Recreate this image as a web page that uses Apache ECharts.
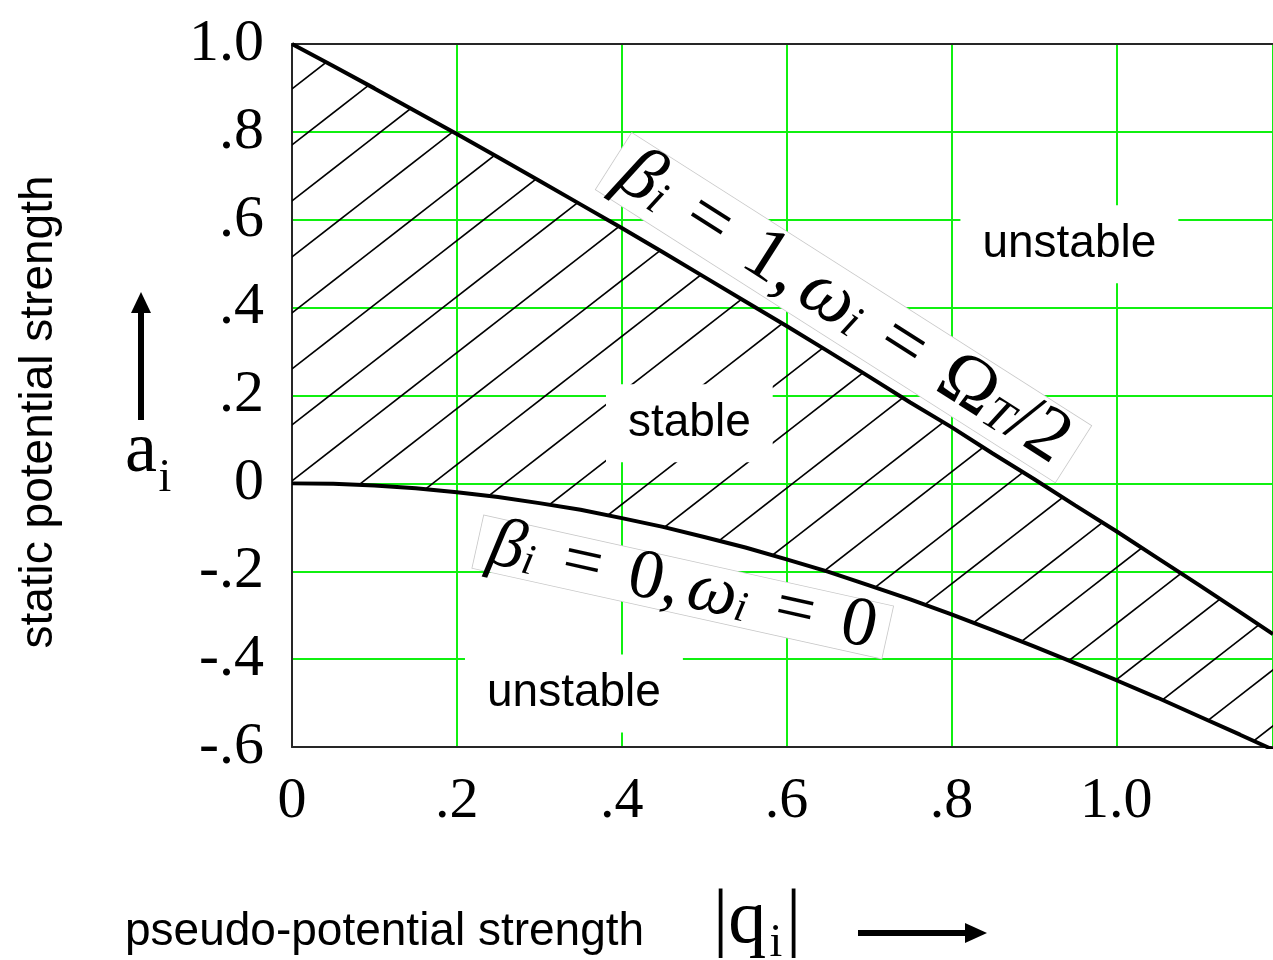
<!DOCTYPE html>
<html>
<head>
<meta charset="utf-8">
<script src="https://cdn.jsdelivr.net/npm/echarts@6/dist/echarts.min.js"></script>
<style>
  html, body { margin: 0; padding: 0; background: #fff; }
  #chart { width: 1273px; height: 960px; }
</style>
</head>
<body>
<div id="chart"></div>
<script>
// Stability diagram: static potential strength a_i versus pseudo-potential strength |q_i|

// sample positions along |q_i|
const qValues = [0, 0.05, 0.10, 0.15, 0.20, 0.25, 0.30, 0.35, 0.40, 0.45, 0.50, 0.55, 0.60,
                 0.65, 0.70, 0.75, 0.80, 0.85, 0.90, 0.95, 1.00, 1.05, 1.10, 1.15, 1.19];

// boundary beta_i = 1 (upper edge of the stable band)
const upperBoundary = [1.000, 0.950, 0.899, 0.847, 0.795, 0.742, 0.689, 0.635, 0.581, 0.526,
                       0.470, 0.414, 0.358, 0.301, 0.243, 0.184, 0.128, 0.068, 0.010, -0.050,
                       -0.109, -0.170, -0.231, -0.293, -0.343];

// boundary beta_i = 0 (lower edge of the stable band)
const lowerBoundary = [0.000, -0.001, -0.005, -0.011, -0.020, -0.031, -0.045, -0.060, -0.079,
                       -0.099, -0.122, -0.146, -0.173, -0.201, -0.232, -0.264, -0.298, -0.334,
                       -0.371, -0.409, -0.448, -0.488, -0.530, -0.572, -0.606];

// tick labels
const xTickValues = [0, 0.2, 0.4, 0.6, 0.8, 1.0];
const xTickLabels = ['0', '.2', '.4', '.6', '.8', '1.0'];
const yTickValues = [1.0, 0.8, 0.6, 0.4, 0.2, 0, -0.2, -0.4, -0.6];
const yTickLabels = ['1.0', '.8', '.6', '.4', '.2', '0', '-.2', '-.4', '-.6'];

// region names and boundary captions, anchored in data coordinates [q, a]
const regionLabels = [
  { text: 'unstable', at: [0.943, 0.544] },
  { text: 'stable',   at: [0.482, 0.137] },
  { text: 'unstable', at: [0.342, -0.478] }
];
const upperCaptionAt = [0.669, 0.400];
const lowerCaptionAt = [0.474, -0.236];

function tickFormatter(values, labels) {
  return function (v) {
    for (let i = 0; i < values.length; i++) {
      if (Math.abs(v - values[i]) < 1e-6) return labels[i];
    }
    return '';
  };
}

// diagonal hatch tile for the stable band
const tileW = 72, tileH = 56, phase = 36;
const hatchTile = document.createElement('canvas');
hatchTile.width = tileW;
hatchTile.height = tileH;
(function () {
  const g = hatchTile.getContext('2d');
  g.strokeStyle = '#000';
  g.lineWidth = 1.7;
  const s = tileH / tileW;
  for (let k = -1; k <= 2; k++) {
    const c = phase + tileH * k;
    g.beginPath();
    g.moveTo(-10, c + 10 * s);
    g.lineTo(tileW + 10, c - (tileW + 10) * s);
    g.stroke();
  }
})();
const hatchFill = { image: hatchTile, repeat: 'repeat' };

const GREEN = '#10f010';
const FRAME = '#262626';

const chart = echarts.init(document.getElementById('chart'), null, { renderer: 'canvas' });

const option = {
  backgroundColor: '#ffffff',
  animation: false,
  grid: { left: 292, top: 44, right: 0, bottom: 213, containLabel: false },
  xAxis: [
    {
      type: 'value', min: 0, max: 1.19, interval: 0.2, position: 'bottom',
      axisLine: { show: true, onZero: false, lineStyle: { color: FRAME, width: 2 } },
      axisTick: { show: false },
      axisLabel: {
        show: true, showMaxLabel: false, margin: 26, color: '#000',
        fontFamily: 'Liberation Serif', fontSize: 58,
        formatter: tickFormatter(xTickValues, xTickLabels)
      },
      splitLine: { show: true, lineStyle: { color: GREEN, width: 2 } }
    },
    {
      type: 'value', min: 0, max: 1.19, interval: 0.2, position: 'top',
      axisLine: { show: true, onZero: false, lineStyle: { color: FRAME, width: 2 } },
      axisTick: { show: false },
      axisLabel: { show: false },
      splitLine: { show: false }
    }
  ],
  yAxis: {
    type: 'value', min: -0.6, max: 1.0, interval: 0.2,
    axisLine: { show: true, onZero: false, lineStyle: { color: FRAME, width: 2 } },
    axisTick: { show: false },
    axisLabel: {
      show: true, margin: 28, color: '#000',
      fontFamily: 'Liberation Serif', fontSize: 60,
      formatter: tickFormatter(yTickValues, yTickLabels)
    },
    splitLine: { show: true, lineStyle: { color: GREEN, width: 2 } }
  },
  series: [
    {
      // hatched stable band between the two boundaries
      type: 'custom',
      z: 2,
      silent: true,
      clip: true,
      data: [[0, 0]],
      renderItem: function (params, api) {
        const pts = [];
        for (let i = 0; i < qValues.length; i++) pts.push(api.coord([qValues[i], upperBoundary[i]]));
        for (let i = qValues.length - 1; i >= 0; i--) pts.push(api.coord([qValues[i], lowerBoundary[i]]));
        return { type: 'polygon', shape: { points: pts }, style: { fill: hatchFill, stroke: null } };
      }
    },
    {
      name: 'beta = 1',
      type: 'line', z: 10, symbol: 'none', silent: true, clip: true,
      lineStyle: { color: '#000', width: 4 },
      data: qValues.map((q, i) => [q, upperBoundary[i]])
    },
    {
      name: 'beta = 0',
      type: 'line', z: 10, symbol: 'none', silent: true, clip: true,
      lineStyle: { color: '#000', width: 4 },
      data: qValues.map((q, i) => [q, lowerBoundary[i]])
    }
  ]
};

chart.setOption(option);

function toPx(pt) {
  return chart.convertToPixel({ xAxisIndex: 0, yAxisIndex: 0 }, pt);
}

const serif = 'Liberation Serif';
const sans = 'Liberation Sans';

function mathRich(size, eqPad) {
  const sub = Math.round(size * 0.62);
  return {
    v: { fontFamily: serif, fontStyle: 'italic', fontSize: size, lineHeight: size * 0.88, fill: '#000' },
    w: { fontFamily: serif, fontStyle: 'italic', fontSize: size, lineHeight: size * 0.88, fill: '#000', padding: [0, 0, 0, size * 0.12] },
    r: { fontFamily: serif, fontSize: size, lineHeight: size * 0.88, fill: '#000' },
    e: { fontFamily: serif, fontSize: size, lineHeight: size * 0.88, fill: '#000', padding: [0, size * eqPad, 0, size * eqPad] },
    s: { fontFamily: serif, fontStyle: 'italic', fontSize: sub, lineHeight: sub * 0.7, verticalAlign: 'bottom', fill: '#000' }
  };
}

const graphics = [];

// captions along the two boundaries
const upPx = toPx(upperCaptionAt);
graphics.push({
  type: 'text', z: 50, x: upPx[0], y: upPx[1], rotation: -32.5 * Math.PI / 180,
  style: {
    text: '{v|β}{s|i}{e|=}{r|1,}{w|ω}{s|i}{e|=}{r|Ω}{s|T}{r|/2}',
    rich: mathRich(76, 0.36),
    align: 'center', verticalAlign: 'middle',
    backgroundColor: '#ffffff', borderColor: '#c8c8c8', borderWidth: 0.8,
    padding: [0, 12, 0, 12]
  }
});

const lowPx = toPx(lowerCaptionAt);
graphics.push({
  type: 'text', z: 50, x: lowPx[0], y: lowPx[1], rotation: -12.5 * Math.PI / 180,
  style: {
    text: '{v|β}{s|i}{e|=}{r|0,}{w|ω}{s|i}{e|=}{r|0}',
    rich: mathRich(70, 0.4),
    align: 'center', verticalAlign: 'middle',
    backgroundColor: '#ffffff', borderColor: '#c8c8c8', borderWidth: 0.8,
    padding: [-4, 12, -4, 12]
  }
});

// region names
regionLabels.forEach(function (lab) {
  const p = toPx(lab.at);
  graphics.push({
    type: 'text', z: 50, x: p[0], y: p[1],
    style: {
      text: lab.text, fontFamily: sans, fontSize: 46, fill: '#000',
      align: 'center', verticalAlign: 'middle',
      backgroundColor: '#ffffff', padding: [16, 22, 16, 22]
    }
  });
});

// vertical axis title and arrow
graphics.push({
  type: 'text', z: 50, x: 39, y: 412, rotation: Math.PI / 2,
  style: { text: 'static potential strength', fontFamily: sans, fontSize: 46, fill: '#000', align: 'center', verticalAlign: 'middle' }
});
graphics.push({ type: 'rect', z: 50, shape: { x: 138, y: 308, width: 6, height: 112 }, style: { fill: '#000' } });
graphics.push({ type: 'polygon', z: 50, shape: { points: [[131, 313], [151, 313], [141, 292]] }, style: { fill: '#000' } });
graphics.push({
  type: 'text', z: 50, x: 141, y: 452,
  style: { text: 'a', fontFamily: serif, fontSize: 72, fill: '#000', align: 'center', verticalAlign: 'middle' }
});
graphics.push({
  type: 'text', z: 50, x: 165, y: 479,
  style: { text: 'i', fontFamily: serif, fontSize: 46, fill: '#000', align: 'center', verticalAlign: 'middle' }
});

// horizontal axis title and arrow
graphics.push({
  type: 'text', z: 50, x: 125, y: 932,
  style: { text: 'pseudo-potential strength', fontFamily: sans, fontSize: 46, fill: '#000', align: 'left', verticalAlign: 'middle' }
});
graphics.push({
  type: 'text', z: 50, x: 713, y: 922,
  style: { text: '|q', fontFamily: serif, fontSize: 76, fill: '#000', align: 'left', verticalAlign: 'middle' }
});
graphics.push({
  type: 'text', z: 50, x: 776, y: 944,
  style: { text: 'i', fontFamily: serif, fontSize: 46, fill: '#000', align: 'center', verticalAlign: 'middle' }
});
graphics.push({
  type: 'text', z: 50, x: 786, y: 922,
  style: { text: '|', fontFamily: serif, fontSize: 76, fill: '#000', align: 'left', verticalAlign: 'middle' }
});
graphics.push({ type: 'rect', z: 50, shape: { x: 858, y: 930, width: 110, height: 6 }, style: { fill: '#000' } });
graphics.push({ type: 'polygon', z: 50, shape: { points: [[965, 923], [965, 943], [987, 933]] }, style: { fill: '#000' } });

chart.setOption({ graphic: graphics });
</script>
</body>
</html>
